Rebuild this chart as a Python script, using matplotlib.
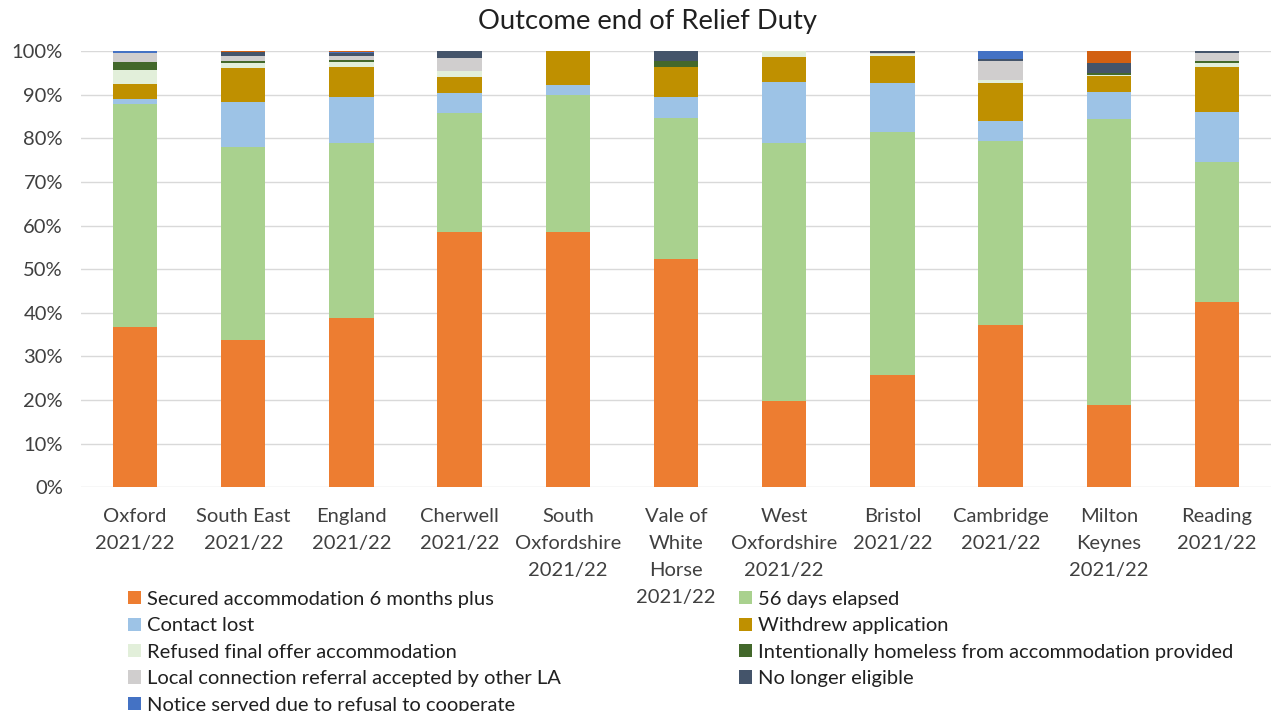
import matplotlib
matplotlib.use("Agg")
import matplotlib.pyplot as plt
import numpy as np

plt.rcParams['font.family'] = ['Lato', 'DejaVu Sans']

# areas compared
areas = ["Oxford\n2021/22", "South East\n2021/22", "England\n2021/22", "Cherwell\n2021/22",
         "South\nOxfordshire\n2021/22", "Vale of\nWhite\nHorse\n2021/22", "West\nOxfordshire\n2021/22",
         "Bristol\n2021/22", "Cambridge\n2021/22", "Milton\nKeynes\n2021/22", "Reading\n2021/22"]

# share of relief duty outcomes (%), bottom to top
secured      = [36.7, 33.8, 38.8, 58.5, 58.5, 52.4, 19.7, 25.8, 37.2, 18.9, 42.5]
elapsed56    = [51.1, 44.2, 40.1, 27.2, 31.4, 32.3, 59.2, 55.6, 42.2, 65.4, 32.1]
contact_lost = [1.2, 10.2, 10.5, 4.7, 2.2, 4.7, 14.1, 11.3, 4.6, 6.2, 11.5]
withdrew     = [3.4, 7.8, 7.0, 3.7, 7.9, 6.9, 5.7, 6.1, 8.6, 3.8, 10.2]
refused      = [3.2, 1.3, 1.1, 1.3, 0.0, 0.0, 1.3, 0.4, 0.8, 0.3, 1.0]
intentional  = [1.8, 0.4, 0.4, 0.0, 0.0, 1.3, 0.0, 0.0, 0.0, 0.4, 0.4]
local_conn   = [2.2, 1.1, 1.0, 3.1, 0.0, 0.0, 0.0, 0.3, 4.4, 0.0, 1.8]
not_eligible = [0.0, 1.0, 0.6, 1.5, 0.0, 2.4, 0.0, 0.5, 0.3, 2.3, 0.6]
notice       = [0.4, 0.0, 0.2, 0.0, 0.0, 0.0, 0.0, 0.0, 1.9, 0.0, 0.0]
other        = [0.0, 0.2, 0.3, 0.0, 0.0, 0.0, 0.0, 0.0, 0.0, 2.6, 0.0]

series = [
    ("Secured accommodation 6 months plus", secured, "#ED7D31"),
    ("56 days elapsed", elapsed56, "#A9D18E"),
    ("Contact lost", contact_lost, "#9DC3E6"),
    ("Withdrew application", withdrew, "#BF9000"),
    ("Refused final offer accommodation", refused, "#E2EFDA"),
    ("Intentionally homeless from accommodation provided", intentional, "#43682B"),
    ("Local connection referral accepted by other LA", local_conn, "#D0CECE"),
    ("No longer eligible", not_eligible, "#44546A"),
    ("Notice served due to refusal to cooperate", notice, "#4472C4"),
    ("Other", other, "#D26012"),
]

fig = plt.figure(figsize=(12.77, 7.11), dpi=100)
ax = fig.add_axes([0.0634, 0.3146, 0.932, 0.6137])

x = np.arange(len(areas))
bottom = np.zeros(len(areas))
handles = []
for name, vals, col in series:
    b = ax.bar(x, vals, 0.41, bottom=bottom, color=col, label=name, zorder=3)
    handles.append(b)
    bottom += np.array(vals)

ax.set_xlim(-0.5, len(areas) - 0.5)
ax.set_ylim(0, 100)
ax.set_yticks(np.arange(0, 101, 10))
ax.set_yticklabels([f"{v}%" for v in range(0, 101, 10)])
ax.set_xticks(x)
ax.set_xticklabels(areas, linespacing=1.7)
ax.tick_params(axis='y', length=0, pad=13, labelsize=14.5, colors="#404040")
ax.tick_params(axis='x', length=0, pad=15, labelsize=14.5, colors="#404040")
ax.grid(axis='y', color="#D9D9D9", linewidth=1, zorder=0)
for s in ax.spines.values():
    s.set_visible(False)

# title is centred on the whole chart area, not the plot area
fig.text(0.507, 1 - 22 / 711, "Outcome end of Relief Duty", fontsize=19.7,
         color="#202020", ha="center", va="center")

# legend in two columns, row-major like the original
left = [handles[i] for i in (0, 2, 4, 6, 8)]
right = [handles[i] for i in (1, 3, 5, 7)]
kw = dict(frameon=False, fontsize=14.5, handlelength=0.65, handleheight=0.65,
          handletextpad=0.3, labelspacing=0.47, borderpad=0, borderaxespad=0,
          loc='upper left', labelcolor="#202020")
fig.legend(left, [h.get_label() for h in left], bbox_to_anchor=(0.1, 0.169), **kw)
fig.legend(right, [h.get_label() for h in right], bbox_to_anchor=(0.5785, 0.169), **kw)

fig.savefig("out.png", dpi=100)
